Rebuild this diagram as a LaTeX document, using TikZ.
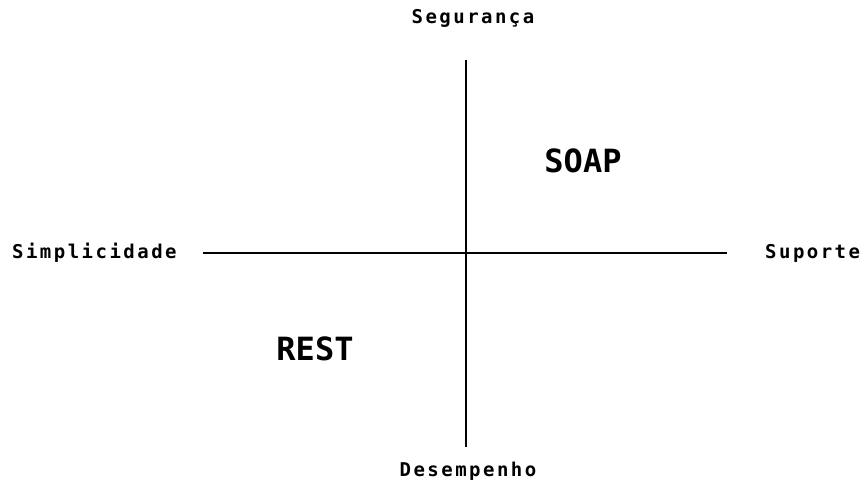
\documentclass[tikz,border=0pt]{standalone}
\usepackage{fontspec}
\newfontfamily\axisfont[LetterSpace=13]{DejaVu Sans Mono Bold}
\newfontfamily\techfont{DejaVu Sans Mono Bold}
\begin{document}
\begin{tikzpicture}[x=1pt,y=-1pt,
  axis/.style={line width=1.4pt,black},
  axislabel/.style={inner sep=0pt,font=\axisfont\fontsize{19}{19}\selectfont},
  techlabel/.style={inner sep=0pt,font=\techfont\fontsize{32}{32}\selectfont}]
  \useasboundingbox[fill=white] (0,0) rectangle (864,484);
  % axis end points
  \coordinate (top) at (466,60);
  \coordinate (bottom) at (466,447);
  \coordinate (left) at (203,253);
  \coordinate (right) at (727,253);
  \draw[axis] (top) -- (bottom);
  \draw[axis] (left) -- (right);
  % axis labels
  \node[axislabel,anchor=base] (seg) at (473,24) {Segurança};
  \node[axislabel,anchor=base west] (simp) at (12,258) {Simplicidade};
  \node[axislabel,anchor=base west] (sup) at (765,258) {Suporte};
  \node[axislabel,anchor=base] (des) at (468,476) {Desempenho};
  % technologies
  \node[techlabel,anchor=base] (soap) at (583,172) {SOAP};
  \node[techlabel,anchor=base] (rest) at (315,360) {REST};
\end{tikzpicture}
\end{document}
